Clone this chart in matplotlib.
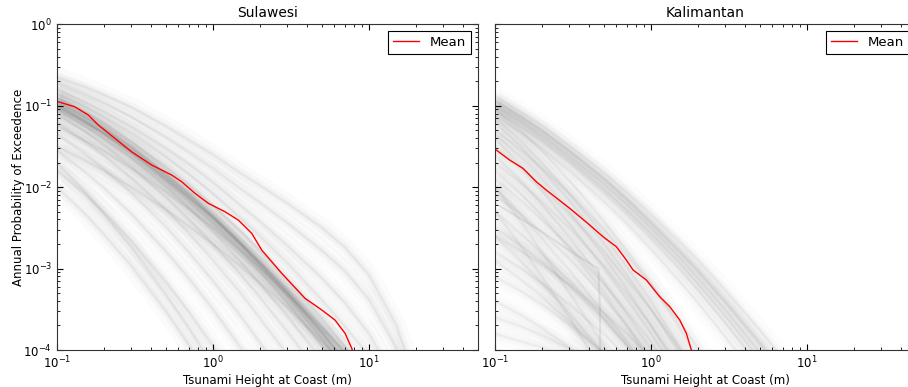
import numpy as np
import matplotlib
matplotlib.use("Agg")
import matplotlib.pyplot as plt

# tsunami height grid (m) shared by the grey hazard curves
heights = [0.1, 0.15, 0.2, 0.3, 0.5, 0.7, 1.0, 1.5, 2.0, 3.0, 5.0, 7.0, 10.0, 15.0, 20.0]

# Sulawesi individual hazard curves, log10(annual exceedance prob) at `heights`
sulawesi_curves = [
    [-0.65, -0.77, -0.87, -1.02, -1.25, -1.42, -1.60, -1.83, -1.98, -2.20, -2.50, -2.74, -3.08, -3.70, -4.40],
    [-0.72, -0.86, -0.97, -1.14, -1.39, -1.57, -1.77, -2.02, -2.19, -2.44, -2.78, -3.03, -3.38, -3.98, -4.60],
    [-0.85, -1.01, -1.14, -1.34, -1.63, -1.84, -2.08, -2.38, -2.60, -2.93, -3.39, -3.71, -4.07, -4.50, -4.82],
    [-0.90, -1.08, -1.22, -1.44, -1.75, -1.97, -2.23, -2.54, -2.78, -3.13, -3.61, -3.95, -4.32, -4.77, -5.10],
    [-0.95, -1.14, -1.29, -1.52, -1.85, -2.08, -2.35, -2.68, -2.93, -3.30, -3.80, -4.16, -4.55, -5.02, -5.37],
    [-1.00, -1.20, -1.35, -1.59, -1.93, -2.17, -2.45, -2.79, -3.04, -3.42, -3.94, -4.30, -4.70, -5.18, -5.53],
    [-1.05, -1.25, -1.41, -1.65, -2.00, -2.26, -2.55, -2.91, -3.18, -3.58, -4.13, -4.52, -4.95, -5.47, -5.85],
    [-1.10, -1.32, -1.49, -1.75, -2.12, -2.39, -2.70, -3.07, -3.36, -3.78, -4.35, -4.75, -5.20, -5.50, -5.50],
    [-1.20, -1.43, -1.61, -1.89, -2.28, -2.57, -2.90, -3.30, -3.61, -4.06, -4.68, -5.10, -5.50, -5.50, -5.50],
    [-1.35, -1.59, -1.78, -2.07, -2.49, -2.80, -3.15, -3.58, -3.91, -4.40, -5.00, -5.50, -5.50, -5.50, -5.50],
    [-1.55, -1.81, -2.01, -2.33, -2.79, -3.12, -3.50, -3.97, -4.32, -5.00, -5.50, -5.50, -5.50, -5.50, -5.50],
    [-1.80, -2.08, -2.31, -2.66, -3.17, -3.53, -3.95, -4.46, -5.00, -5.50, -5.50, -5.50, -5.50, -5.50, -5.50],
    [-2.00, -2.32, -2.58, -2.97, -3.53, -3.94, -4.40, -5.00, -5.50, -5.50, -5.50, -5.50, -5.50, -5.50, -5.50],
    [-1.70, -2.05, -2.33, -2.74, -3.32, -3.73, -4.20, -5.00, -5.50, -5.50, -5.50, -5.50, -5.50, -5.50, -5.50],
    [-1.25, -1.43, -1.56, -1.77, -2.06, -2.27, -2.50, -2.78, -2.99, -3.31, -3.73, -4.02, -4.35, -4.74, -5.03],
    [-1.50, -1.67, -1.80, -2.00, -2.28, -2.48, -2.70, -2.97, -3.18, -3.48, -3.90, -4.18, -4.50, -4.88, -5.16],
    [-0.98, -1.18, -1.34, -1.57, -1.90, -2.12, -2.38, -2.69, -2.92, -3.26, -3.72, -4.03, -4.38, -4.80, -5.10],
    [-0.92, -1.11, -1.26, -1.50, -1.84, -2.08, -2.36, -2.70, -2.97, -3.34, -3.86, -4.23, -4.64, -5.10, -5.50],
    [-1.02, -1.20, -1.33, -1.56, -1.89, -2.13, -2.38, -2.70, -2.94, -3.30, -3.78, -4.12, -4.50, -4.95, -5.30],
    [-0.80, -0.95, -1.07, -1.26, -1.53, -1.72, -1.94, -2.22, -2.42, -2.72, -3.12, -3.42, -3.80, -4.40, -5.00],
]

# Kalimantan individual hazard curves
kalimantan_curves = [
    [-0.88, -1.09, -1.24, -1.49, -1.82, -2.06, -2.33, -2.66, -2.90, -3.27, -3.76, -4.10, -4.48, -5.00, -5.50],
    [-0.93, -1.14, -1.30, -1.55, -1.89, -2.14, -2.42, -2.76, -3.01, -3.39, -3.90, -4.26, -4.65, -5.00, -5.50],
    [-0.95, -1.16, -1.32, -1.57, -1.91, -2.16, -2.45, -2.79, -3.04, -3.42, -3.93, -4.29, -4.68, -5.00, -5.50],
    [-0.98, -1.19, -1.36, -1.62, -1.97, -2.22, -2.51, -2.86, -3.12, -3.51, -4.03, -4.40, -5.00, -5.50, -5.50],
    [-1.01, -1.23, -1.40, -1.66, -2.02, -2.28, -2.57, -2.92, -3.19, -3.59, -4.12, -4.50, -5.00, -5.50, -5.50],
    [-1.05, -1.27, -1.44, -1.70, -2.07, -2.33, -2.63, -2.99, -3.26, -3.67, -4.21, -4.60, -5.00, -5.50, -5.50],
    [-1.12, -1.35, -1.53, -1.80, -2.18, -2.45, -2.76, -3.14, -3.42, -3.84, -4.40, -5.00, -5.50, -5.50, -5.50],
    [-1.30, -1.56, -1.77, -2.08, -2.52, -2.84, -3.20, -3.64, -3.97, -4.46, -5.00, -5.50, -5.50, -5.50, -5.50],
    [-1.50, -1.78, -2.00, -2.33, -2.79, -3.13, -3.50, -3.96, -4.30, -5.00, -5.50, -5.50, -5.50, -5.50, -5.50],
    [-1.20, -1.53, -1.79, -2.17, -2.70, -3.08, -3.50, -4.01, -4.39, -5.00, -5.50, -5.50, -5.50, -5.50, -5.50],
    [-1.70, -1.97, -2.18, -2.51, -2.97, -3.31, -3.70, -4.18, -4.54, -5.00, -5.50, -5.50, -5.50, -5.50, -5.50],
    [-1.90, -2.18, -2.40, -2.73, -3.19, -3.53, -3.90, -4.36, -4.70, -5.00, -5.50, -5.50, -5.50, -5.50, -5.50],
    [-1.40, -1.76, -2.04, -2.45, -2.99, -3.38, -3.80, -4.31, -5.00, -5.50, -5.50, -5.50, -5.50, -5.50, -5.50],
    [-2.10, -2.35, -2.56, -2.88, -3.35, -3.70, -4.10, -4.60, -5.00, -5.50, -5.50, -5.50, -5.50, -5.50, -5.50],
    [-2.30, -2.59, -2.82, -3.15, -3.61, -3.94, -4.30, -4.70, -5.00, -5.50, -5.50, -5.50, -5.50, -5.50, -5.50],
    [-2.50, -2.73, -2.92, -3.21, -3.63, -3.94, -4.30, -4.80, -5.00, -5.50, -5.50, -5.50, -5.50, -5.50, -5.50],
    [-2.00, -2.36, -2.63, -3.02, -3.55, -3.90, -4.30, -5.00, -5.50, -5.50, -5.50, -5.50, -5.50, -5.50, -5.50],
    [-2.80, -3.01, -3.18, -3.44, -3.81, -4.09, -4.40, -5.00, -5.50, -5.50, -5.50, -5.50, -5.50, -5.50, -5.50],
    [-3.10, -3.29, -3.44, -3.69, -4.04, -4.29, -4.60, -5.00, -5.50, -5.50, -5.50, -5.50, -5.50, -5.50, -5.50],
    [-2.60, -2.93, -3.18, -3.55, -4.05, -4.41, -5.00, -5.50, -5.50, -5.50, -5.50, -5.50, -5.50, -5.50, -5.50],
    [-3.40, -3.58, -3.73, -3.97, -4.32, -4.59, -5.00, -5.50, -5.50, -5.50, -5.50, -5.50, -5.50, -5.50, -5.50],
    [-1.60, -1.95, -2.22, -2.62, -3.17, -3.56, -4.00, -4.50, -5.00, -5.50, -5.50, -5.50, -5.50, -5.50, -5.50],
    [-2.00, -2.45, -2.80, -3.30, -3.95, -4.50, -5.00, -5.50, -5.50, -5.50, -5.50, -5.50, -5.50, -5.50, -5.50],
    [-1.80, -2.10, -2.35, -2.75, -3.30, -3.70, -4.15, -4.70, -5.00, -5.50, -5.50, -5.50, -5.50, -5.50, -5.50],
    [-2.60, -2.80, -2.95, -3.20, -3.55, -3.80, -4.10, -4.50, -5.00, -5.50, -5.50, -5.50, -5.50, -5.50, -5.50],
    [-3.60, -3.72, -3.82, -3.98, -4.20, -4.40, -4.60, -5.00, -5.50, -5.50, -5.50, -5.50, -5.50, -5.50, -5.50],
    [-1.35, -1.65, -1.90, -2.30, -2.85, -3.25, -3.70, -4.25, -4.70, -5.00, -5.50, -5.50, -5.50, -5.50, -5.50],
    [-2.30, -2.75, -3.10, -3.60, -4.30, -5.00, -5.50, -5.50, -5.50, -5.50, -5.50, -5.50, -5.50, -5.50, -5.50],
    [-1.15, -1.45, -1.70, -2.08, -2.60, -2.98, -3.40, -3.95, -4.40, -5.00, -5.50, -5.50, -5.50, -5.50, -5.50],
    [-2.90, -3.15, -3.35, -3.65, -4.05, -4.35, -4.70, -5.00, -5.50, -5.50, -5.50, -5.50, -5.50, -5.50, -5.50],
    [-1.05, -1.33, -1.56, -1.92, -2.42, -2.78, -3.18, -3.70, -4.10, -4.80, -5.50, -5.50, -5.50, -5.50, -5.50],
    [-3.80, -3.90, -3.97, -4.10, -4.30, -4.50, -5.00, -5.50, -5.50, -5.50, -5.50, -5.50, -5.50, -5.50, -5.50],
]

# one Kalimantan curve that drops almost vertically near 0.47 m
kal_drop_h = [0.1, 0.15, 0.2, 0.3, 0.4, 0.46, 0.47, 0.475]
kal_drop_logp = [-2.2, -2.4, -2.55, -2.78, -2.93, -3.0, -3.5, -5.0]

# mean curves
sul_mean_h = [0.102, 0.130, 0.159, 0.184, 0.235, 0.301, 0.405, 0.544, 0.630, 0.767,
              0.933, 1.194, 1.452, 1.771, 2.052, 2.757, 3.89, 4.98, 6.05, 7.02,
              7.75, 8.2]
sul_mean_logp = [-0.953, -1.015, -1.117, -1.239, -1.402, -1.567, -1.730, -1.853,
                 -1.935, -2.077, -2.200, -2.303, -2.405, -2.568, -2.773, -3.059,
                 -3.366, -3.509, -3.632, -3.795, -3.979, -4.15]

kal_mean_h = [0.1019, 0.1242, 0.1512, 0.1840, 0.2132, 0.3012, 0.4046, 0.4923,
              0.5993, 0.6946, 0.767, 0.933, 1.137, 1.318, 1.528, 1.683, 1.813, 1.87]
kal_mean_logp = [-1.546, -1.669, -1.771, -1.935, -2.037, -2.261, -2.466, -2.610,
                 -2.732, -2.896, -3.018, -3.141, -3.346, -3.468, -3.632, -3.795,
                 -4.0, -4.15]

titles = ["Sulawesi", "Kalimantan"]

fig = plt.figure(figsize=(9.08, 3.87), dpi=100)
ax1 = fig.add_axes([0.0628, 0.0956, 0.4637, 0.842])
ax2 = fig.add_axes([0.5452, 0.0956, 0.4637, 0.842])


def draw_curves(ax, curves, scale=1.0):
    # stacked widths give the soft, blurred look of many overlapping curves
    for c in curves:
        p = 10 ** np.array(c)
        for lw, a in [(14, 0.016), (7, 0.022), (3, 0.028), (1, 0.045)]:
            ax.plot(heights, p, color="black", alpha=a * scale, lw=lw,
                    solid_joinstyle="round", solid_capstyle="butt")


draw_curves(ax1, sulawesi_curves, 1.0)
draw_curves(ax2, kalimantan_curves, 0.75)
ax2.plot(kal_drop_h, 10 ** np.array(kal_drop_logp), color="black", alpha=0.07, lw=1.5)

ax1.plot(sul_mean_h, 10 ** np.array(sul_mean_logp), color="red", lw=1, label="Mean")
ax2.plot(kal_mean_h, 10 ** np.array(kal_mean_logp), color="red", lw=1, label="Mean")

for ax, title in zip([ax1, ax2], titles):
    ax.set_xscale("log")
    ax.set_yscale("log")
    ax.set_xlim(0.1, 50)
    ax.set_ylim(1e-4, 1)
    ax.set_title(title, fontsize=10, pad=5)
    ax.set_xlabel("Tsunami Height at Coast (m)", fontsize=8.5, labelpad=2)
    ax.tick_params(which="both", direction="in", top=True, right=True, labelsize=8.5)
    ax.tick_params(which="major", length=4)
    ax.tick_params(which="minor", length=2)
    for s in ax.spines.values():
        s.set_color("#333333")
    leg = ax.legend(loc="upper right", fontsize=9.5, fancybox=False, framealpha=1,
                    edgecolor="black", borderaxespad=0.5)
    leg.get_frame().set_linewidth(0.8)

ax1.set_ylabel("Annual Probability of Exceedence", fontsize=8.5, labelpad=-1)
ax2.tick_params(labelleft=False)

fig.savefig("out.png", dpi=100)
